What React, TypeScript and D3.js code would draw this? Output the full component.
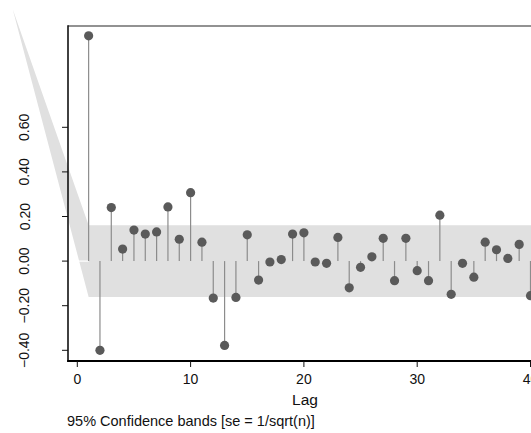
import React from "react";
import * as d3 from "d3";

const lags: number[] = d3.range(1, 41);
const acf: number[] = [
  1.01, -0.4, 0.24, 0.054, 0.139, 0.121, 0.131, 0.243, 0.098, 0.307,
  0.085, -0.166, -0.378, -0.163, 0.118, -0.085, -0.004, 0.007, 0.121, 0.127,
  -0.004, -0.01, 0.106, -0.12, -0.028, 0.019, 0.102, -0.088, 0.102, -0.043,
  -0.088, 0.206, -0.149, -0.01, -0.072, 0.085, 0.051, 0.012, 0.075, -0.155,
];
const bandLags: number[] = [-5.7, 1, 41];
const bandUpper: number[] = [1.129, 0.161, 0.161];
const bandLower: number[] = [1.129, -0.161, -0.161];
const xTicks: number[] = [0, 10, 20, 30, 40];
const yTicks: number[] = [-0.4, -0.2, 0, 0.2, 0.4, 0.6];
const xTitle = "Lag";
const note = "95% Confidence bands [se = 1/sqrt(n)]";

const W = 531;
const H = 433;
const plot = { left: 68, top: 26, bottom: 361, right: 545 };
const FONT = "'Liberation Sans', Arial, Helvetica, sans-serif";

export default function App() {
  const x = d3.scaleLinear().domain([0, 40]).range([77.3, 530.5]);
  const y = d3.scaleLinear().domain([-0.4, 0.6]).range([350.3, 127.3]);

  const bandPts = bandLags.map((l, i) => ({ l, u: bandUpper[i], lo: bandLower[i] }));
  const band = d3
    .area<{ l: number; u: number; lo: number }>()
    .x((d) => x(d.l))
    .y0((d) => y(d.lo))
    .y1((d) => y(d.u));

  return (
    <svg
      width={W}
      height={H}
      style={{ position: "absolute", left: 0, top: 0, background: "#fff" }}
      fontFamily={FONT}
    >
      <rect x={0} y={0} width={W} height={H} fill="#fff" />
      <path d={band(bandPts) || ""} fill="#e0e0e0" stroke="none" />
      <line
        x1={plot.left + 1}
        x2={x(1)}
        y1={y(0)}
        y2={y(0)}
        stroke="#fff"
        strokeWidth={1.2}
      />
      {acf.map((v, i) => (
        <line
          key={"s" + i}
          x1={x(lags[i])}
          x2={x(lags[i])}
          y1={y(0)}
          y2={y(v)}
          stroke="#8c8c8c"
          strokeWidth={1.2}
        />
      ))}
      {acf.map((v, i) => (
        <circle key={"c" + i} cx={x(lags[i])} cy={y(v)} r={4.6} fill="#5a5a5a" />
      ))}
      {/* frame */}
      <line x1={plot.left} x2={plot.right} y1={plot.top} y2={plot.top} stroke="#6e6e6e" strokeWidth={1.4} />
      <line x1={plot.left} x2={plot.left} y1={plot.top - 0.7} y2={plot.bottom + 1} stroke="#111" strokeWidth={1.6} />
      <line x1={plot.left - 0.8} x2={plot.right} y1={plot.bottom} y2={plot.bottom} stroke="#000" strokeWidth={2.2} />
      {/* y axis */}
      {yTicks.map((t) => (
        <g key={"yt" + t}>
          <line x1={plot.left - 6} x2={plot.left} y1={y(t)} y2={y(t)} stroke="#111" strokeWidth={1} />
          <text
            x={29.5}
            y={y(t)}
            transform={`rotate(-90, 29.5, ${y(t)})`}
            textAnchor="middle"
            fontSize={14}
            fill="#111"
          >
            {d3.format(".2f")(t)}
          </text>
        </g>
      ))}
      {/* x axis */}
      {xTicks.map((t) => (
        <g key={"xt" + t}>
          <line x1={x(t)} x2={x(t)} y1={plot.bottom} y2={plot.bottom + 6} stroke="#111" strokeWidth={1} />
          <text x={x(t)} y={383.5} textAnchor="middle" fontSize={14} fill="#111">
            {t}
          </text>
        </g>
      ))}
      <text x={305} y={405} textAnchor="middle" fontSize={15.5} fill="#111">
        {xTitle}
      </text>
      <text x={67} y={426} fontSize={14.5} fill="#111">
        {note}
      </text>
    </svg>
  );
}
